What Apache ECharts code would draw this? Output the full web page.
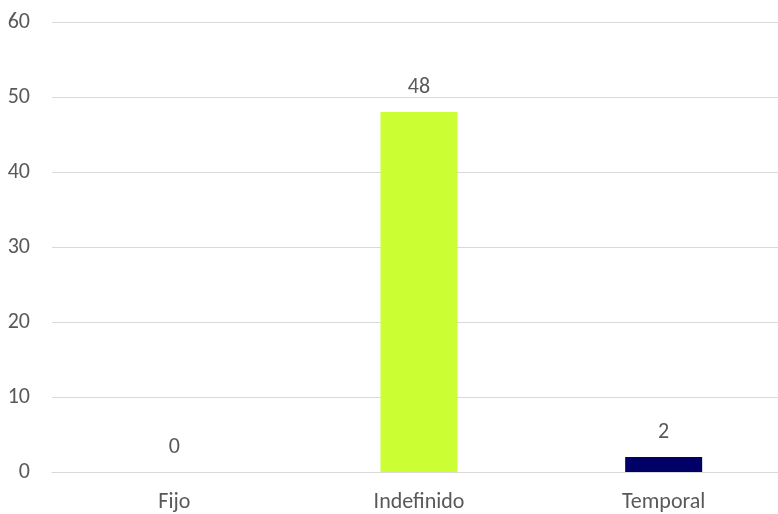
<!DOCTYPE html>
<html>
<head>
<meta charset="utf-8">
<script src="https://cdn.jsdelivr.net/npm/echarts@6/dist/echarts.min.js"></script>
<style>
  html, body { margin: 0; padding: 0; background: #ffffff; }
  #chart { width: 778px; height: 514px; }
</style>
</head>
<body>
<div id="chart"></div>
<script>
// Contract types and number of employees in each
const categories = ['Fijo', 'Indefinido', 'Temporal'];
const values = [0, 48, 2];
const barColors = ['#CCFF33', '#CCFF33', '#000066'];

const chart = echarts.init(document.getElementById('chart'));
const textColor = '#595959';
const fontFamily = 'Carlito, Calibri, Lato, sans-serif';
const fontSize = 22;

chart.setOption({
  animation: false,
  // plot area runs slightly past the right edge of the canvas
  grid: {
    left: 52, top: 22, width: 734, height: 450,
    containLabel: false,
    outerBoundsMode: 'none'
  },
  xAxis: {
    type: 'category',
    data: categories,
    axisLine: { show: true, lineStyle: { color: '#d9d9d9', width: 1 } },
    axisTick: { show: false },
    axisLabel: { color: textColor, fontSize: fontSize, fontFamily: fontFamily, margin: 19 }
  },
  yAxis: {
    type: 'value',
    min: 0,
    max: 60,
    interval: 10,
    axisLine: { show: false },
    axisTick: { show: false },
    axisLabel: { color: textColor, fontSize: fontSize, fontFamily: fontFamily, margin: 22 },
    splitLine: { lineStyle: { color: '#d9d9d9', width: 1 } }
  },
  series: [{
    type: 'bar',
    barWidth: 77,
    data: values.map((v, i) => ({ value: v, itemStyle: { color: barColors[i] } })),
    label: {
      show: true,
      position: 'top',
      distance: 14,
      color: textColor,
      fontSize: fontSize,
      fontFamily: fontFamily
    }
  }]
});
</script>
</body>
</html>
